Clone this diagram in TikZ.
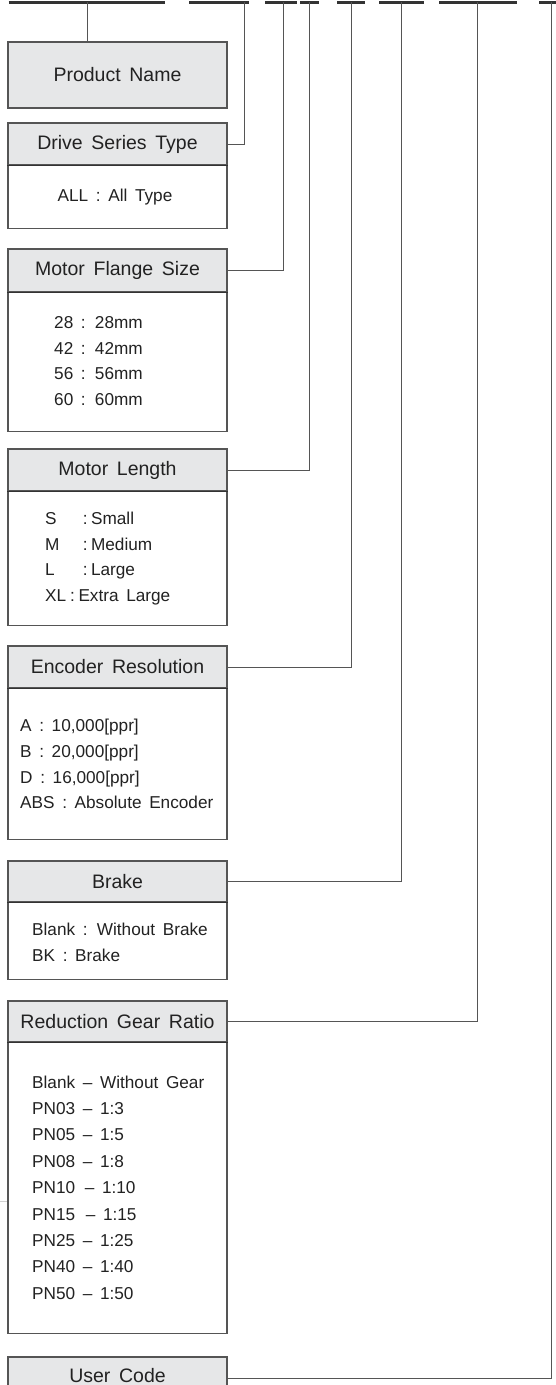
\documentclass[tikz,border=0pt]{standalone}
\usepackage{fontspec}
\setmainfont{Liberation Sans}[WordSpace=1.6]
\definecolor{hdrgray}{HTML}{E6E7E8}
\definecolor{linegray}{HTML}{555555}
\definecolor{sepgray}{HTML}{333333}
\definecolor{bargray}{HTML}{333333}
\definecolor{txt}{HTML}{222222}
\tikzset{
  hdr/.style={draw=linegray, line width=1.1pt, fill=hdrgray, minimum width=219pt,
    inner sep=0pt, text=txt, font=\fontsize{19.5}{23}\selectfont},
  hdrtext/.style={inner sep=0pt, text=txt, font=\fontsize{19.5}{23}\selectfont},
  bodyb/.style={draw=linegray, line width=1.1pt, fill=white, minimum width=219pt,
    inner sep=0pt, anchor=north},
  item/.style={inner sep=0pt, align=left, text=txt, anchor=west,
    font=\fontsize{17.2}{25.8}\selectfont},
  conn/.style={draw=linegray, line width=1pt},
  sep/.style={draw=sepgray, line width=1.2pt},
  barline/.style={draw=bargray, line width=2.7pt}
}
\begin{document}
\begin{tikzpicture}[x=1pt,y=-1pt]
\useasboundingbox (0,0) rectangle (556,1385);

% top code bars
\draw[barline] (8.5,2.3) -- (165,2.3);
\draw[barline] (189,2.3) -- (249,2.3);
\draw[barline] (265,2.3) -- (297,2.3);
\draw[barline] (300,2.3) -- (319,2.3);
\draw[barline] (337,2.3) -- (365,2.3);
\draw[barline] (379,2.3) -- (424,2.3);
\draw[barline] (439,2.3) -- (517,2.3);
\draw[barline] (539,2.3) -- (560,2.3);

\coordinate (t1) at (87,2.3);
\coordinate (t2) at (244,2.3);
\coordinate (t3) at (283,2.3);
\coordinate (t4) at (309.5,2.3);
\coordinate (t5) at (351,2.3);
\coordinate (t6) at (401.5,2.3);
\coordinate (t7) at (477.5,2.3);
\coordinate (t8) at (551.5,2.3);

% Product Name
\node[hdr, minimum height=66pt] (pn) at (117.5,75) {Product Name};

% Drive Series Type
\node[bodyb, minimum height=63pt] (db) at (117.5,165) {};
\node[hdr, minimum height=42pt] (dh) at (117.5,144) {Drive Series Type};
\draw[sep] (dh.south west) -- (dh.south east);
\node[item, anchor=center] (dt) at (115,197) {ALL : All Type};

% Motor Flange Size
\node[bodyb, minimum height=139pt] (fb) at (117.5,292) {};
\node[hdr, minimum height=43pt] (fh) at (117.5,270.5) {Motor Flange Size};
\draw[sep] (fh.south west) -- (fh.south east);
\node[item] (ft) at (54,361) {28 : 28mm\\42 : 42mm\\56 : 56mm\\60 : 60mm};

% Motor Length
\node[bodyb, minimum height=134pt] (lb) at (117.5,491) {};
\node[hdr, minimum height=42pt] (lh) at (117.5,470) {Motor Length};
\draw[sep] (lh.south west) -- (lh.south east);
\node[item] (lt) at (45,558.5) {\makebox[37.6pt][l]{S}:\hspace{3.5pt}Small\\
  \makebox[37.6pt][l]{M}:\hspace{3.5pt}Medium\\
  \makebox[37.6pt][l]{L}:\hspace{3.5pt}Large\\
  XL\hspace{4pt}:\hspace{3.5pt}Extra Large};

% Encoder Resolution
\node[bodyb, minimum height=151pt] (eb) at (117.5,688) {};
\node[hdr, minimum height=42pt] (eh) at (117.5,667) {Encoder Resolution};
\draw[sep] (eh.south west) -- (eh.south east);
\node[item] (et) at (20,764) {A : 10,000[ppr]\\B : 20,000[ppr]\\D : 16,000[ppr]\\ABS : Absolute Encoder};

% Brake
\node[bodyb, minimum height=77pt] (bb) at (117.5,902) {};
\node[hdr, minimum height=41pt] (bh) at (117.5,881.5) {Brake};
\draw[sep] (bh.south west) -- (bh.south east);
\node[item] (bt) at (32,942) {Blank : Without Brake\\BK : Brake};

% Reduction Gear Ratio
\node[bodyb, minimum height=291pt] (rb) at (117.5,1042) {};
\node[hdr, minimum height=41pt] (rh) at (117.5,1021.5) {Reduction Gear Ratio};
\draw[sep] (rh.south west) -- (rh.south east);
\node[item, font=\fontsize{17.2}{26.4}\selectfont] (rt) at (32,1187.5) {Blank -- Without Gear\\
  PN03 -- 1:3\\PN05 -- 1:5\\PN08 -- 1:8\\PN10\hspace{2pt} -- 1:10\\PN15\hspace{3pt} -- 1:15\\
  PN25 -- 1:25\\PN40 -- 1:40\\PN50 -- 1:50};

% User Code
\node[hdr, minimum height=42pt] (uh) at (117.5,1378) {};
\node[hdrtext] (ut) at (117.5,1375.5) {User Code};

% connectors
\draw[conn] (t1 |- pn.north) -- (t1);
\draw[conn] (dh.east) -| (t2);
\draw[conn] (fh.east) -| (t3);
\draw[conn] (lh.east) -| (t4);
\draw[conn] (eh.east) -| (t5);
\draw[conn] (bh.east) -| (t6);
\draw[conn] (rh.east) -| (t7);
\draw[conn] (uh.east) -| (t8);

% faint scan mark at left
\draw[draw=black!18, line width=1pt] (0,1201) -- (7,1201);
\end{tikzpicture}
\end{document}
